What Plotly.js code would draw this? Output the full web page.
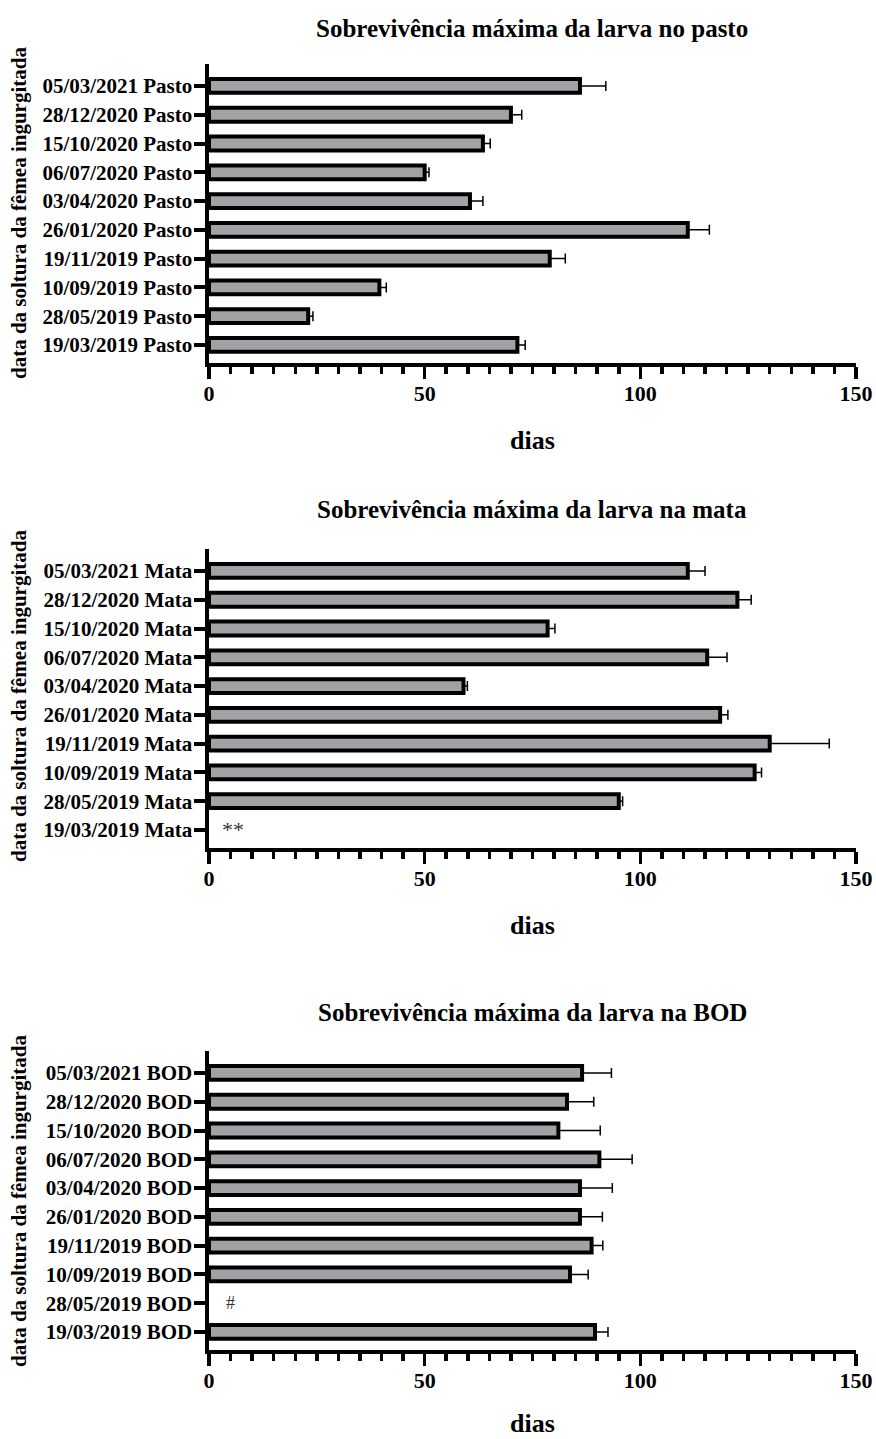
<!DOCTYPE html>
<html>
<head>
<meta charset="utf-8">
<script src="https://cdn.plot.ly/plotly-3.0.1.min.js"></script>
<style>html,body{margin:0;padding:0;background:#fff;}#chart{width:876px;height:1439px;}</style>
</head>
<body>
<div id="chart"></div>
<script>
// Category dates (top to bottom as in the figure)
const dates = ["05/03/2021","28/12/2020","15/10/2020","06/07/2020","03/04/2020","26/01/2020","19/11/2019","10/09/2019","28/05/2019","19/03/2019"];

// Pasto
const pastoLabels = dates.map(d => d + " Pasto");
const pastoMean = [86, 70, 63.5, 50, 60.5, 111, 79, 39.5, 23, 71.5];
const pastoErr  = [6, 2.5, 1.7, 1, 3, 5, 3.6, 1.6, 1.1, 1.8];

// Mata
const mataLabels = dates.map(d => d + " Mata");
const mataMean = [111, 122.5, 78.5, 115.5, 59, 118.5, 130, 126.5, 95, null];
const mataErr  = [4, 3.2, 1.7, 4.6, 0.9, 1.8, 13.8, 1.6, 0.9, null];

// BOD
const bodLabels = dates.map(d => d + " BOD");
const bodMean = [86.5, 83, 81, 90.5, 86, 86, 88.7, 83.7, null, 89.5];
const bodErr  = [6.8, 6.2, 9.7, 7.6, 7.5, 5.2, 2.6, 4.2, null, 3.0];

const titles = ["Sobrevivência máxima da larva no pasto","Sobrevivência máxima da larva na mata","Sobrevivência máxima da larva na BOD"];
const xTitle = "dias";
const yTitle = "data da soltura da fêmea ingurgitada";
const xTicks = [0, 50, 100, 150];
// significance marks: [panel, category label, x value, text]
const marks = [[2, "19/03/2019 Mata", 5.5, "**"], [3, "28/05/2019 BOD", 5, "#"]];

const FONT = "Liberation Serif, Times New Roman, serif";
const barColor = "#a2a2a6";

function barTrace(labels, mean, err, ax) {
  return {
    type: "bar", orientation: "h",
    x: mean, y: labels,
    xaxis: "x" + (ax === 1 ? "" : ax), yaxis: "y" + (ax === 1 ? "" : ax),
    marker: {color: barColor, line: {color: "#000", width: 4}},
    error_x: {type: "data", array: err, arrayminus: err.map(() => 0), symmetric: false,
              color: "#000", thickness: 1.5, width: 5},
    hoverinfo: "x+y", showlegend: false
  };
}

const data = [
  barTrace(pastoLabels, pastoMean, pastoErr, 1),
  barTrace(mataLabels, mataMean, mataErr, 2),
  barTrace(bodLabels, bodMean, bodErr, 3)
];

const xDomain = [209/876, 856/876];
// pixel positions of top of y axis and x-axis line per panel
const panelPx = [[63.5, 362.8], [548.5, 847.8], [1050.5, 1349.8]];
const H = 1439, W = 876;

function xAxis(anchor) {
  return {
    domain: xDomain, anchor: anchor, range: [0, 150],
    tickvals: xTicks, ticktext: xTicks.map(String),
    ticks: "outside", ticklen: 12, tickwidth: 3.5, tickcolor: "#000",
    minor: {dtick: 5, tick0: 0, ticks: "outside", ticklen: 7, tickwidth: 3.5, tickcolor: "#000"},
    showline: true, linewidth: 4.5, linecolor: "#000",
    showgrid: false, zeroline: false,
    ticklabelstandoff: -5,
    tickfont: {family: FONT, size: 22, color: "#000", weight: "bold"}
  };
}
function yAxis(anchor, px) {
  return {
    domain: [1 - px[1]/H, 1 - px[0]/H], anchor: anchor,
    type: "category", range: [9.62, -0.78],
    ticks: "outside", ticklen: 11, tickwidth: 4, tickcolor: "#000",
    showline: true, linewidth: 4.5, linecolor: "#000",
    showgrid: false, zeroline: false, ticklabelstandoff: -3,
    tickfont: {family: FONT, size: 21, color: "#000", weight: "bold"}
  };
}

const layout = {
  width: W, height: H,
  margin: {l: 0, r: 0, t: 0, b: 0},
  paper_bgcolor: "#fff", plot_bgcolor: "#fff",
  bargap: 0.52,
  xaxis: xAxis("y"), yaxis: yAxis("x", panelPx[0]),
  xaxis2: xAxis("y2"), yaxis2: yAxis("x2", panelPx[1]),
  xaxis3: xAxis("y3"), yaxis3: yAxis("x3", panelPx[2]),
  annotations: []
};

const titleY = [28, 510, 1012];
const diasY = [440, 925, 1423];
const yTitleY = [213, 696, 1201];
const xc = (xDomain[0] + xDomain[1]) / 2;
for (let i = 0; i < 3; i++) {
  layout.annotations.push({text: titles[i], xref: "paper", yref: "paper", x: xc, y: 1 - titleY[i]/H,
    xanchor: "center", yanchor: "middle", showarrow: false,
    font: {family: FONT, size: 25, color: "#000", weight: "bold"}});
  layout.annotations.push({text: xTitle, xref: "paper", yref: "paper", x: xc, y: 1 - diasY[i]/H,
    xanchor: "center", yanchor: "middle", showarrow: false,
    font: {family: FONT, size: 26, color: "#000", weight: "bold"}});
  layout.annotations.push({text: yTitle, xref: "paper", yref: "paper", x: 19/W, y: 1 - yTitleY[i]/H,
    xanchor: "center", yanchor: "middle", textangle: -90, showarrow: false,
    font: {family: FONT, size: 21, color: "#000", weight: "bold"}});
}
marks.forEach(m => {
  const s = m[0] === 1 ? "" : m[0];
  layout.annotations.push({text: m[3], xref: "x" + s, yref: "y" + s, x: m[2], y: m[1],
    xanchor: "center", yanchor: "middle", showarrow: false,
    font: {family: FONT, size: m[3] === "#" ? 18 : 22, color: "#333"}});
});

Plotly.newPlot("chart", data, layout, {staticPlot: true, displayModeBar: false});
</script>
</body>
</html>
